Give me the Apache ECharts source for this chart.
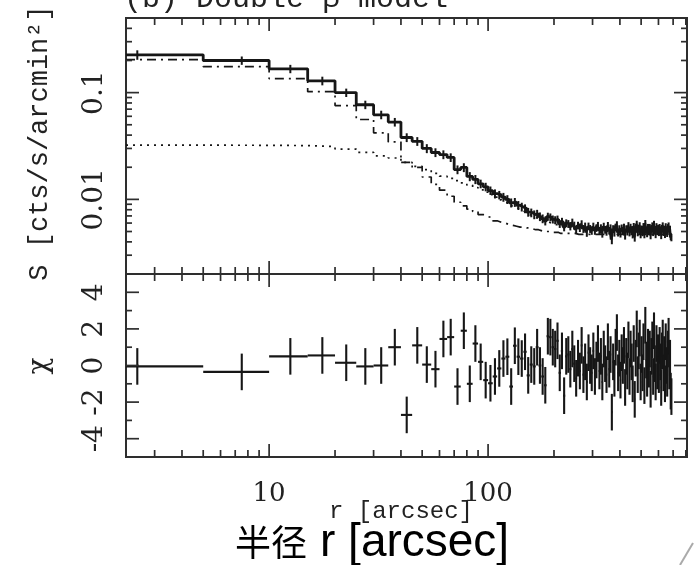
<!DOCTYPE html>
<html><head><meta charset="utf-8">
<script src="https://cdn.jsdelivr.net/npm/echarts@6/dist/echarts.min.js"></script>
<style>html,body{margin:0;padding:0;background:#fff}#c{width:694px;height:565px}</style>
</head><body><div id="c"></div>
<script>
// ---- data ----
const binCenters = [
2.5,7.5,12.5,17.5,22.5,27.5,32.5,37.5,42.5,47.5,
52.5,57.5,62.5,67.5,72.5,77.5,82.5,87.5,92.5,97.5,
102.5,107.5,112.5,117.5,122.5,127.5,132.5,137.5,142.5,147.5,
152.5,157.5,162.5,167.5,172.5,177.5,182.5,187.5,192.5,197.5,
202.5,207.5,212.5,217.5,222.5,227.5,232.5,237.5,242.5,247.5,
252.5,257.5,262.5,267.5,272.5,277.5,282.5,287.5,292.5,297.5,
302.5,307.5,312.5,317.5,322.5,327.5,332.5,337.5,342.5,347.5,
352.5,357.5,362.5,367.5,372.5,377.5,382.5,387.5,392.5,397.5,
402.5,407.5,412.5,417.5,422.5,427.5,432.5,437.5,442.5,447.5,
452.5,457.5,462.5,467.5,472.5,477.5,482.5,487.5,492.5,497.5,
502.5,507.5,512.5,517.5,522.5,527.5,532.5,537.5,542.5,547.5,
552.5,557.5,562.5,567.5,572.5,577.5,582.5,587.5,592.5,597.5,
602.5,607.5,612.5,617.5,622.5,627.5,632.5,637.5,642.5,647.5,
652.5,657.5,662.5,667.5,672.5,677.5,682.5,687.5];
const binHalfWidth = 2.5;

const surfBright = [
0.226,0.200,0.167,0.129,0.100,0.077,0.062,0.053,0.038,0.035,
0.030,0.0275,0.0263,0.0247,0.0190,0.0199,0.0164,0.0154,0.0140,0.0131,
0.0121,0.0113,0.0110,0.0105,0.0100,0.0093,0.0094,0.0088,0.0085,0.0082,
0.0076,0.0075,0.0072,0.0073,0.0069,0.0066,0.0063,0.0069,0.0068,0.0065,
0.0064,0.0065,0.0059,0.0062,0.0055,0.0060,0.0059,0.0056,0.0061,0.0057,
0.0052,0.0057,0.0054,0.0059,0.0053,0.0056,0.0049,0.0056,0.0053,0.0051,
0.0056,0.0051,0.0054,0.0057,0.0051,0.0054,0.0048,0.0056,0.0052,0.0050,
0.0057,0.0051,0.0054,0.0042,0.0053,0.0049,0.0055,0.0058,0.0049,0.0053,
0.0048,0.0054,0.0051,0.0055,0.0046,0.0053,0.0050,0.0057,0.0049,0.0055,
0.0052,0.0047,0.0056,0.0044,0.0053,0.0059,0.0049,0.0054,0.0057,0.0047,
0.0053,0.0049,0.0056,0.0047,0.0060,0.0052,0.0048,0.0055,0.0050,0.0055,
0.0046,0.0053,0.0057,0.0049,0.0059,0.0051,0.0047,0.0056,0.0050,0.0054,
0.0049,0.0055,0.0052,0.0046,0.0054,0.0057,0.0049,0.0053,0.0047,0.0056,
0.0051,0.0048,0.0055,0.0057,0.0050,0.0053,0.0045,0.0044];

const surfBrightErr = [
0.023,0.018,0.015,0.012,0.009,0.007,0.0057,0.0049,0.0036,0.0033,
0.0029,0.0026,0.0025,0.0023,0.0018,0.0019,0.0016,0.0015,0.0013,0.0012,
0.0011,0.0011,0.0010,0.0010,0.00095,0.0009,0.0009,0.00085,0.0008,0.00078,
0.00072,0.0007,0.00068,0.00068,0.00064,0.00062,0.0006,0.0006,0.00058,0.00056,
0.00055,0.00055,0.0005,0.00052,0.00048,0.0005,0.0005,0.00048,0.0005,0.00048,
0.00046,0.00047,0.00045,0.00047,0.00045,0.00046,0.00044,0.00046,0.00045,0.00044,
0.00045,0.00044,0.00044,0.00045,0.00043,0.00044,0.00042,0.00044,0.00043,0.00043,
0.00044,0.00042,0.00043,0.0004,0.00043,0.00042,0.00043,0.00044,0.00041,0.00042,
0.00041,0.00042,0.00041,0.00042,0.0004,0.00041,0.00041,0.00042,0.0004,0.00041,
0.0004,0.00039,0.00041,0.00038,0.0004,0.00041,0.00039,0.0004,0.00041,0.00038,
0.00039,0.00038,0.0004,0.00038,0.00041,0.00039,0.00038,0.00039,0.00038,0.00039,
0.00037,0.00038,0.00039,0.00037,0.0004,0.00038,0.00037,0.00039,0.00037,0.00038,
0.00037,0.00038,0.00037,0.00036,0.00038,0.00039,0.00036,0.00037,0.00036,0.00038,
0.00036,0.00036,0.00037,0.00038,0.00036,0.00037,0.00035,0.00035];

const chiValues = [
-0.05,-0.35,0.5,0.55,0.15,-0.05,0.0,1.0,-2.7,1.1,
0.05,-0.2,1.45,1.55,-1.15,1.9,-1.0,1.2,0.2,-0.8,
-0.97,-0.6,-0.16,0.38,0.48,-1.15,1.08,0.48,0.38,0.75,
-0.54,0.05,-0.05,1.0,0.0,-0.6,-1.08,1.6,1.55,1.0,
0.9,1.35,-0.4,0.8,-1.65,0.5,0.6,-0.2,0.9,0.1,
-0.7,0.4,-0.3,1.1,-0.5,0.2,-0.9,0.7,0.0,-0.4,
0.8,-0.6,0.3,1.2,-0.3,0.5,-0.9,0.9,0.1,-0.5,
1.3,-0.2,0.6,-2.55,0.2,-0.7,1.0,1.8,-0.4,0.4,
-0.8,0.7,0.0,1.1,-1.2,0.5,-0.3,1.4,-0.6,0.9,
0.2,-1.0,1.2,-1.85,0.4,2.0,-0.5,0.8,1.5,-0.9,
0.6,-0.4,1.3,-1.1,2.2,0.3,-0.7,1.0,-0.2,0.9,
-1.3,0.5,1.4,-0.6,1.9,0.1,-0.9,1.2,-0.3,0.7,
-0.5,1.1,0.2,-1.2,0.8,1.5,-0.4,0.6,-1.0,1.3,
0.0,-0.7,0.9,1.6,-0.3,0.4,-1.4,-1.7];
const chiErr = 1;

const modelDashDot = [
0.204,0.175,0.135,0.102,0.0756,0.056,0.042,0.0345,0.0222,0.0199,
0.0162,0.0138,0.0122,0.0107,0.0094,0.0087,0.0081,0.0077,0.0072,0.0069,
0.0067,0.0063,0.0061,0.0060,0.0058,0.0057,0.0056,0.0055,0.0055,0.0054,
0.0054,0.0053,0.0052,0.0052,0.0051,0.0050,0.0050,0.0050,0.0049,0.0049,
0.0049,0.0049,0.0048,0.0048,0.0048,0.0048,0.0048,0.0048,0.0048,0.0048,
0.0047,0.0047,0.0047,0.0047,0.0047,0.0047,0.0047,0.0047,0.0047,0.0047,
0.0047,0.0047,0.0047,0.0047,0.0047,0.0047,0.0047,0.0047,0.0047,0.0047,
0.0047,0.0047,0.0047,0.0047,0.0047,0.0047,0.0047,0.0047,0.0047,0.0047,
0.0047,0.0047,0.0047,0.0047,0.0047,0.0047,0.0047,0.0047,0.0047,0.0047,
0.0047,0.0047,0.0047,0.0047,0.0047,0.0047,0.0047,0.0047,0.0047,0.0047,
0.0047,0.0047,0.0047,0.0047,0.0047,0.0047,0.0047,0.0047,0.0047,0.0047,
0.0047,0.0047,0.0047,0.0047,0.0047,0.0047,0.0047,0.0047,0.0047,0.0047,
0.0047,0.0047,0.0047,0.0047,0.0047,0.0047,0.0047,0.0047,0.0047,0.0047,
0.0047,0.0047,0.0047,0.0047,0.0047,0.0047,0.0047,0.0047];

const modelDotted = [
0.0322,0.0321,0.0319,0.0312,0.0296,0.0276,0.0256,0.0244,0.0222,0.0204,
0.0190,0.0175,0.0165,0.0157,0.0150,0.0143,0.0136,0.0129,0.0123,0.0117,
0.0111,0.0105,0.0099,0.0095,0.0091,0.0087,0.0084,0.0081,0.0078,0.0075,
0.0072,0.0070,0.0068,0.0066,0.0064,0.0063,0.0062,0.0061,0.0060,0.0059,
0.0058,0.0058,0.0057,0.0057,0.0056,0.0056,0.0055,0.0055,0.0055,0.0054,
0.0054,0.0054,0.0053,0.0053,0.0053,0.0053,0.0052,0.0052,0.0052,0.0052,
0.0052,0.0052,0.0052,0.0052,0.0052,0.0052,0.0052,0.0052,0.0052,0.0052,
0.0051,0.0051,0.0051,0.0051,0.0051,0.0051,0.0051,0.0051,0.0051,0.0051,
0.0051,0.0051,0.0051,0.0051,0.0051,0.0051,0.0051,0.0051,0.0051,0.0051,
0.0051,0.0051,0.0051,0.0051,0.0051,0.0051,0.0051,0.0051,0.0051,0.0051,
0.0050,0.0050,0.0050,0.0050,0.0050,0.0050,0.0050,0.0050,0.0050,0.0050,
0.0050,0.0050,0.0050,0.0050,0.0050,0.0050,0.0050,0.0050,0.0050,0.0050,
0.0050,0.0050,0.0050,0.0050,0.0050,0.0050,0.0050,0.0050,0.0050,0.0050,
0.0050,0.0050,0.0050,0.0050,0.0050,0.0050,0.0050,0.0050];

const background = 0.0047;

// axis ranges and ticks
const xRange = [2.22, 810];
const sRange = [0.002, 0.5];
const chiRange = [-5, 5];
const xMajorTicks = [10, 100];
const xMinorTicks = [3,4,5,6,7,8,9,20,30,40,50,60,70,80,90,200,300,400,500,600,700,800];
const sMajorTicks = [0.01, 0.1];
const sMinorTicks = [0.003,0.004,0.005,0.006,0.007,0.008,0.009,0.02,0.03,0.04,0.05,0.06,0.07,0.08,0.09,0.2,0.3,0.4];
const chiMajorTicks = [-4, -2, 0, 2, 4];
const chiMinorTicks = [-3, -1, 1, 3];

const titleText = '(b) Double \u03b2-model';
const yTitleTop = 'S [cts/s/arcmin\u00b2]';
const yTitleBottom = '\u03c7';
const xTitle = 'r [arcsec]';
const overlayCjk = '半径';
const overlayLatin = 'r [arcsec]';

// ---- helpers ----
const INK = '#161616';
const FRAME = '#2e2e2e';
const MONO = '"Liberation Mono", "DejaVu Sans Mono", monospace';
const SERIF = '"DejaVu Serif", serif';

function stepPoints(vals) {
  const pts = [];
  for (let i = 0; i < binCenters.length; i++) {
    const lo = Math.max(binCenters[i] - binHalfWidth, xRange[0]);
    const hi = binCenters[i] + binHalfWidth;
    pts.push([lo, vals[i]], [hi, vals[i]]);
  }
  return pts;
}

function xTickSeries(gridIdx, refY, majorLen, minorLen) {
  const data = xMajorTicks.map(v => [v, refY, majorLen]).concat(xMinorTicks.map(v => [v, refY, minorLen]));
  return {
    type: 'custom', xAxisIndex: gridIdx, yAxisIndex: gridIdx, clip: false, silent: true, z: 5,
    data: data, encode: {x: 0, y: 1},
    renderItem: (params, api) => {
      const cs = params.coordSys;
      const px = api.coord([api.value(0), api.value(1)])[0];
      const len = api.value(2);
      const st = {stroke: FRAME, lineWidth: 1.7};
      return {type: 'group', children: [
        {type: 'line', shape: {x1: px, y1: cs.y, x2: px, y2: cs.y + len}, style: st},
        {type: 'line', shape: {x1: px, y1: cs.y + cs.height, x2: px, y2: cs.y + cs.height - len}, style: st}
      ]};
    }
  };
}
function yTickSeries(gridIdx, refX, majors, minors, majorLen, minorLen) {
  const data = majors.map(v => [refX, v, majorLen]).concat(minors.map(v => [refX, v, minorLen]));
  return {
    type: 'custom', xAxisIndex: gridIdx, yAxisIndex: gridIdx, clip: false, silent: true, z: 5,
    data: data, encode: {x: 0, y: 1},
    renderItem: (params, api) => {
      const cs = params.coordSys;
      const py = api.coord([api.value(0), api.value(1)])[1];
      const len = api.value(2);
      const st = {stroke: FRAME, lineWidth: 1.7};
      return {type: 'group', children: [
        {type: 'line', shape: {x1: cs.x, y1: py, x2: cs.x + len, y2: py}, style: st},
        {type: 'line', shape: {x1: cs.x + cs.width, y1: py, x2: cs.x + cs.width - len, y2: py}, style: st}
      ]};
    }
  };
}

const chart = echarts.init(document.getElementById('c'), null, {renderer: 'canvas'});
const option = {
  backgroundColor: '#fff',
  animation: false,
  grid: [
    {left: 126, top: 18, width: 561, height: 256, show: true, borderColor: FRAME, borderWidth: 2, backgroundColor: 'transparent', outerBoundsMode: 'none'},
    {left: 126, top: 274, width: 561, height: 183, show: true, borderColor: FRAME, borderWidth: 2, backgroundColor: 'transparent', outerBoundsMode: 'none'}
  ],
  xAxis: [
    {gridIndex: 0, type: 'log', logBase: 10, min: xRange[0], max: xRange[1],
     axisLine: {show: false}, axisTick: {show: false}, axisLabel: {show: false}, splitLine: {show: false}},
    {gridIndex: 1, type: 'log', logBase: 10, min: xRange[0], max: xRange[1],
     axisLine: {show: false}, axisTick: {show: false}, splitLine: {show: false},
     axisLabel: {customValues: xMajorTicks, color: '#222', fontFamily: SERIF, fontSize: 26, margin: 24, hideOverlap: false,
       formatter: v => String(Math.round(v))}}
  ],
  yAxis: [
    {gridIndex: 0, type: 'log', logBase: 10, min: sRange[0], max: sRange[1],
     axisLine: {show: false}, axisTick: {show: false}, splitLine: {show: false},
     axisLabel: {customValues: sMajorTicks, rotate: 90, color: '#222', fontFamily: SERIF, fontSize: 28, margin: 17, hideOverlap: false,
       formatter: v => (v < 0.05 ? '0.01' : '0.1')}},
    {gridIndex: 1, type: 'value', min: chiRange[0], max: chiRange[1],
     axisLine: {show: false}, axisTick: {show: false}, splitLine: {show: false},
     axisLabel: {customValues: chiMajorTicks, rotate: 90, color: '#222', fontFamily: SERIF, fontSize: 28, margin: 17, hideOverlap: false,
       formatter: v => String(v)}}
  ],
  series: [
    // background (dashed)
    {type: 'line', xAxisIndex: 0, yAxisIndex: 0, data: [], silent: true,
     markLine: {silent: true, symbol: 'none', label: {show: false},
       lineStyle: {color: INK, width: 1.7, type: [14, 11]}, data: [{yAxis: background}]}},
    // component 2 + background (dotted)
    {type: 'line', xAxisIndex: 0, yAxisIndex: 0, data: stepPoints(modelDotted), showSymbol: false, silent: true, clip: true,
     lineStyle: {color: INK, width: 1.7, type: [2, 5]}},
    // component 1 + background (dash-dot)
    {type: 'line', xAxisIndex: 0, yAxisIndex: 0, data: stepPoints(modelDashDot), showSymbol: false, silent: true, clip: true,
     lineStyle: {color: INK, width: 1.7, type: [9, 5, 2, 5]}},
    // data histogram
    {type: 'line', xAxisIndex: 0, yAxisIndex: 0, data: stepPoints(surfBright), showSymbol: false, silent: true, clip: true,
     lineStyle: {color: INK, width: 2.8}},
    // data error bars
    {type: 'custom', xAxisIndex: 0, yAxisIndex: 0, clip: true, silent: true,
     data: binCenters.map((r, i) => [r, surfBright[i], surfBrightErr[i]]), encode: {x: 0, y: 1},
     renderItem: (params, api) => {
       const r = api.value(0), s = api.value(1), e = api.value(2);
       const a = api.coord([r, s + e]), b = api.coord([r, s - e]);
       return {type: 'line', shape: {x1: a[0], y1: a[1], x2: b[0], y2: b[1]}, style: {stroke: INK, lineWidth: 2}};
     }},
    // residuals
    {type: 'custom', xAxisIndex: 1, yAxisIndex: 1, clip: true, silent: true,
     data: binCenters.map((r, i) => [r, chiValues[i]]), encode: {x: 0, y: 1},
     renderItem: (params, api) => {
       const r = api.value(0), c = api.value(1);
       const lo = Math.max(r - binHalfWidth, xRange[0]), hi = r + binHalfWidth;
       const pl = api.coord([lo, c]), pr = api.coord([hi, c]);
       const pt = api.coord([r, c + chiErr]), pb = api.coord([r, c - chiErr]);
       const st = {stroke: INK, lineWidth: 2.1};
       return {type: 'group', children: [
         {type: 'line', shape: {x1: pl[0], y1: pl[1], x2: pr[0], y2: pr[1]}, style: st},
         {type: 'line', shape: {x1: pt[0], y1: pt[1], x2: pb[0], y2: pb[1]}, style: st}
       ]};
     }},
    xTickSeries(0, 0.01, 13, 7),
    xTickSeries(1, 0, 13, 7),
    yTickSeries(0, 10, sMajorTicks, sMinorTicks, 13, 6),
    yTickSeries(1, 10, chiMajorTicks, chiMinorTicks, 13, 6)
  ],
  graphic: [
    {type: 'text', x: 124, y: 14, silent: true,
     style: {text: titleText, fill: '#222', font: '30px ' + MONO, align: 'left', verticalAlign: 'bottom'}},
    {type: 'text', x: 40, y: 143, rotation: Math.PI / 2, silent: true,
     style: {text: yTitleTop, fill: '#222', font: '27px ' + MONO, align: 'center', verticalAlign: 'middle'}},
    {type: 'text', x: 40, y: 366, rotation: Math.PI / 2, silent: true,
     style: {text: yTitleBottom, fill: '#222', font: '28px ' + SERIF, align: 'center', verticalAlign: 'middle'}},
    {type: 'text', x: 401, y: 524, silent: true,
     style: {text: xTitle, fill: '#222', font: '24px ' + MONO, align: 'center', verticalAlign: 'bottom'}},
    {type: 'text', x: 235, y: 560, silent: true, z: 10,
     style: {text: overlayCjk, fill: '#000', font: '36px "Noto Sans CJK SC"', align: 'left', verticalAlign: 'bottom'}},
    {type: 'text', x: 320, y: 566, silent: true, z: 10,
     style: {text: overlayLatin, fill: '#000', font: '46px "Liberation Sans"', align: 'left', verticalAlign: 'bottom'}},
    {type: 'line', silent: true, shape: {x1: 693, y1: 543, x2: 680, y2: 565}, style: {stroke: '#aaa', lineWidth: 2}}
  ]
};
chart.setOption(option);
</script>
</body></html>
